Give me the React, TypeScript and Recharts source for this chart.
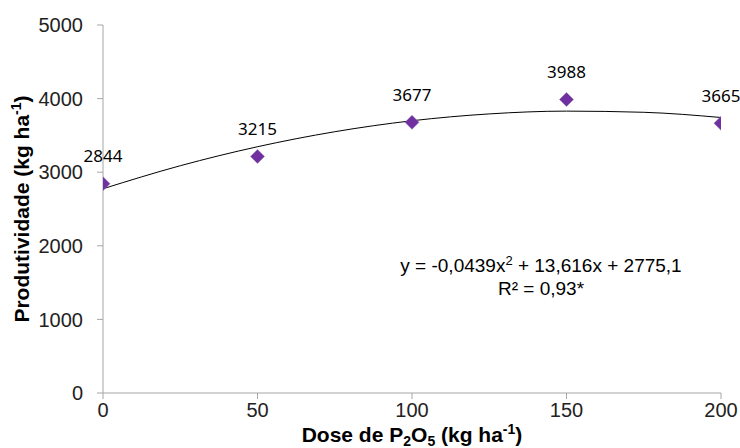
import React from "react";
import {
    ComposedChart,
    Line,
    Scatter,
    XAxis,
    YAxis,
    LabelList,
} from "recharts";

// dose de P2O5 (kg ha-1) e produtividade observada
const doses = [0, 50, 100, 150, 200];
const produtividade = [2844, 3215, 3677, 3988, 3665];

// linha de tendência
const trendDoses = [0, 25, 50, 75, 100, 125, 150, 175, 200];
const trendValues = [2775, 3088, 3346, 3550, 3699, 3792, 3830, 3814, 3743];

const xTicks = [0, 50, 100, 150, 200];
const yTicks = [0, 1000, 2000, 3000, 4000, 5000];

const points = doses.map((d, i) => ({ x: d, y: produtividade[i] }));
const trend = trendDoses.map((d, i) => ({ x: d, t: trendValues[i] }));

const AXIS = "#a6a6a6";
const PURPLE = "#7030a0";
const FONT = "Liberation Sans, Arial, sans-serif";
const tickStyle = { fontFamily: FONT, fontSize: 20, fill: "#222" };

const Diamond = (props: any) => {
    const { cx, cy } = props;
    if (cx == null || cy == null) return null;
    const r = 7;
    return (
        <path
            d={`M${cx},${cy - r} L${cx + r},${cy} L${cx},${cy + r} L${cx - r},${cy} Z`}
            fill={PURPLE}
            stroke="#8f6fb5"
            strokeWidth={0.5}
        />
    );
};

const YTitle = (props: any) => {
    const { viewBox } = props;
    const cy = viewBox.y + viewBox.height / 2;
    return (
        <text
            x={0}
            y={0}
            transform={`translate(29, ${cy}) rotate(-90)`}
            textAnchor="middle"
            fontFamily={FONT}
            fontWeight="bold"
            fontSize={21}
            fill="#000"
        >
            Produtividade (kg ha
            <tspan fontSize={14} dy={-8}>-1</tspan>
            <tspan dy={8}>)</tspan>
        </text>
    );
};

const XTitle = () => (
    <text
        x={412}
        y={442}
        textAnchor="middle"
        fontFamily={FONT}
        fontWeight="bold"
        fontSize={21}
        fill="#000"
    >
        Dose de P
        <tspan fontSize={14} dy={4}>2</tspan>
        <tspan dy={-4}>O</tspan>
        <tspan fontSize={14} dy={4}>5</tspan>
        <tspan dy={-4}> (kg ha</tspan>
        <tspan fontSize={14} dy={-8}>-1</tspan>
        <tspan dy={8}>)</tspan>
    </text>
);

const Equation = () => (
    <text fontFamily={FONT} fontSize={19} fill="#000" textAnchor="middle">
        <tspan x={541} y={272}>
            y = -0,0439x
            <tspan fontSize={13} dy={-7}>2</tspan>
            <tspan dy={7}> + 13,616x + 2775,1</tspan>
        </tspan>
        <tspan x={541} y={295}>R² = 0,93*</tspan>
    </text>
);

export default function App() {
    return (
        <div style={{ position: "absolute", left: 0, top: 0, width: 740, height: 448, background: "#fff" }}>
            <ComposedChart
                width={740}
                height={448}
                data={trend}
                margin={{ top: 25, right: 19, bottom: 0, left: 33 }}
            >
                <XAxis
                    dataKey="x"
                    type="number"
                    domain={[0, 200]}
                    ticks={xTicks}
                    height={55}
                    stroke={AXIS}
                    tickLine={{ stroke: AXIS }}
                    tickSize={6}
                    tick={tickStyle}
                    tickMargin={4}
                    allowDataOverflow
                />
                <YAxis
                    type="number"
                    domain={[0, 5000]}
                    ticks={yTicks}
                    width={70}
                    stroke={AXIS}
                    tickLine={{ stroke: AXIS }}
                    tickSize={6}
                    tick={tickStyle}
                    tickMargin={14}
                    label={{ content: YTitle }}
                />
                <Line
                    dataKey="t"
                    type="monotone"
                    stroke="#000"
                    strokeWidth={1}
                    dot={false}
                    activeDot={false}
                    isAnimationActive={false}
                />
                <Scatter data={points} dataKey="y" shape={Diamond} isAnimationActive={false}>
                    <LabelList
                        dataKey="y"
                        position="top"
                        offset={17}
                        style={{ fontFamily: "Noto Sans, sans-serif", fontSize: 17, fill: "#000" }}
                    />
                </Scatter>
                <Equation />
                <XTitle />
            </ComposedChart>
        </div>
    );
}
